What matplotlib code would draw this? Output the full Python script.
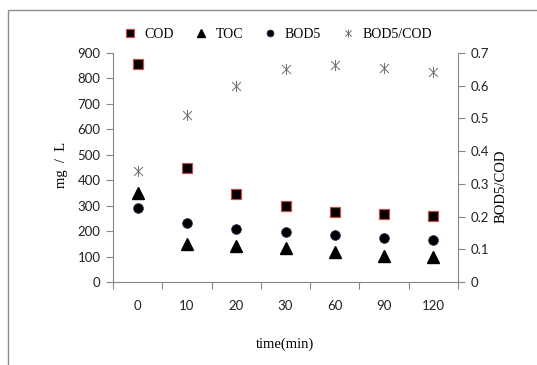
#!/usr/bin/env python3

import numpy as np
import matplotlib.pyplot as plt
from matplotlib.path import Path
from matplotlib.patches import Rectangle

# Data
times = ['0', '10', '20', '30', '60', '90', '120']
cod = [855, 450, 345, 300, 275, 266, 259]
toc = [350, 151, 142, 133, 118, 104, 98]
bod5 = [289, 230, 209, 195, 184, 174, 166]
ratio = [0.34, 0.51, 0.60, 0.651, 0.663, 0.654, 0.641]


def star_marker():
    verts = [(0, -1), (0, 1), (-0.8, -0.8), (0.8, 0.8), (-0.8, 0.8), (0.8, -0.8)]
    codes = [Path.MOVETO, Path.LINETO] * 3
    return Path(verts, codes)


def main():
    serif = 'Liberation Serif'
    sans = 'Lato'
    grey = '#868686'

    fig = plt.figure(figsize=(5.37, 3.65), dpi=100)
    fig.patches.append(Rectangle((8 / 537, -0.1), 1.2, (365 - 10) / 365 + 0.1,
                                 transform=fig.transFigure, fill=False,
                                 edgecolor='#8c8c8c', lw=1.0))

    ax = fig.add_axes([113 / 537, 83 / 365, 345 / 537, 229 / 365])
    ax2 = ax.twinx()

    x = np.arange(len(times))
    h1, = ax.plot(x, cod, ls='none', marker='s', ms=7.5, mfc='black',
                  mec='#c0504d', mew=0.9, label='COD')
    h2, = ax.plot(x, toc, ls='none', marker='^', ms=8, mfc='black',
                  mec='black', label='TOC')
    h3, = ax.plot(x, bod5, ls='none', marker='o', ms=7, mfc='black',
                  mec='#3a2a5a', mew=0.6, label='BOD5')
    h4, = ax2.plot(x, ratio, ls='none', marker=star_marker(), ms=8,
                   mfc='none', mec='#6e6e6e', mew=0.7, label='BOD5/COD')

    ax.set_xlim(-0.5, len(times) - 0.5)
    ax.set_ylim(0, 900)
    ax.set_yticks(np.arange(0, 901, 100))
    ax2.set_ylim(0, 0.7)
    ax2.set_yticks(np.arange(0, 0.71, 0.1))
    ax2.set_yticklabels(['0'] + ['%.1f' % v for v in np.arange(0.1, 0.71, 0.1)])

    ax.set_xticks(x)
    ax.set_xticklabels(times)
    ax.set_xticks(np.arange(-0.5, len(times)), minor=True)
    ax.tick_params(axis='x', which='major', length=0, pad=13)
    ax.tick_params(axis='x', which='minor', length=5, color=grey, width=0.8)

    for a in (ax, ax2):
        for s in a.spines.values():
            s.set_visible(False)
    ax.spines['left'].set_visible(True)
    ax.spines['bottom'].set_visible(True)
    ax2.spines['right'].set_visible(True)
    for s in (ax.spines['left'], ax.spines['bottom'], ax2.spines['right']):
        s.set_color(grey)
        s.set_linewidth(0.8)

    ax.tick_params(axis='y', length=5, color=grey, width=0.8, pad=4)
    ax2.tick_params(axis='y', length=5, color=grey, width=0.8, pad=4)
    for lab in ax.get_xticklabels() + ax.get_yticklabels() + ax2.get_yticklabels():
        lab.set_fontfamily(sans)
        lab.set_fontsize(9.5)
        lab.set_color('#222222')

    ax.set_xlabel('time(min)', fontfamily=serif, fontsize=10.5, labelpad=18)
    ax.set_ylabel('mg  /  L', fontfamily=serif, fontsize=10.5, labelpad=10)
    ax.yaxis.set_label_coords(-0.13, 0.51)
    ax2.set_ylabel('BOD5/COD', fontfamily=serif, fontsize=10.5, labelpad=2)
    ax2.yaxis.set_label_coords(1.105, 0.42)

    fig.legend([h1, h2, h3, h4], ['COD', 'TOC', 'BOD5', 'BOD5/COD'],
               loc='center', bbox_to_anchor=(278 / 537, (365 - 34) / 365),
               ncol=4, frameon=False, markerscale=0.7, handlelength=0.9,
               handletextpad=0.6, columnspacing=1.5,
               prop={'family': serif, 'size': 10})

    fig.savefig('out.png', dpi=100)


if __name__ == "__main__":
    main()
